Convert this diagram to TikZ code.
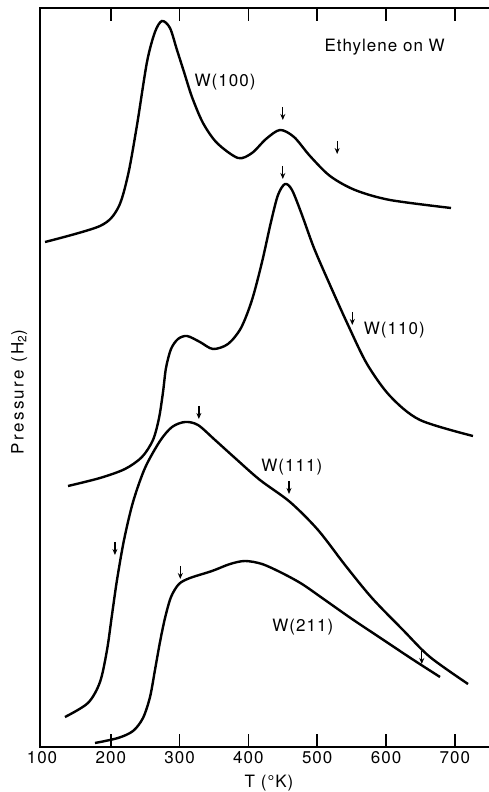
\documentclass[tikz,border=0pt]{standalone}
\usepackage{fontspec}
\setmainfont{TeX Gyre Heros}[LetterSpace=6]
\usetikzlibrary{arrows.meta}

\begin{document}
\begin{tikzpicture}[x=0.688pt,y=1pt,
	curve/.style={smooth,tension=0.5,line width=2.4pt},
	peakarrow/.style={-{Stealth[length=6pt,width=5pt]},line width=1.3pt},
	lbl/.style={font=\fontsize{17}{20}\selectfont,inner sep=0pt}]
		\useasboundingbox (38.95,0) rectangle (749.7,792);
		\draw[line width=1.8pt] (749.7,784) -- (97,784) -- (97,45) -- (749.7,45);
		\foreach \x in {200,300,...,700} {
			\draw[line width=1.5pt] (\x,45) -- (\x,58);
			\draw[line width=1.5pt] (\x,784) -- (\x,771);
		}
		\foreach \x in {100,200,...,700}
			\node[lbl] (t\x) at (\x,34) {\x};
		\node[lbl] (xlab) at (430,9) {T (°K)};
		\node[lbl,rotate=90,font=\fontsize{17}{20}\selectfont\addfontfeature{LetterSpace=14}] (ylab) at (67,400) {Pressure (H\textsubscript{2})};
		\draw[curve] plot coordinates {(104.4,550) (184.3,566) (210.5,584) (225,617) (238.1,667) (252.6,730) (264.2,760) (274.4,771) (286,764) (296.2,742) (306.4,720) (318,695) (334,669) (354.4,649) (384.9,634) (405.2,639) (425.6,653) (445.9,662) (466.3,655) (489.5,636) (518.6,616) (554.9,602) (605.8,592) (694.5,584)};
		\draw[curve] plot coordinates {(137.8,306) (184.3,314) (220.6,323) (245.3,335) (261.3,352) (270.1,374) (275.9,400) (280.2,424) (287.5,443) (297.7,453) (310.8,456) (329.6,450) (348.5,443) (370.3,448) (389.2,464) (405.2,492) (419.8,530) (432.8,570) (443,597) (453.2,608) (463.4,602) (477.9,577) (495.3,544) (518.6,507) (544.8,467) (572.4,428) (605.8,396) (649.4,372) (726.4,356)};
		\draw[curve] plot coordinates {(133.4,75) (166.8,89) (184.3,110) (194.5,142) (201.7,177) (209,212) (219.2,252) (232.3,290) (249.7,324) (271.5,351) (289,365) (307.8,370) (326.7,367) (351.5,352) (380.5,334) (416.8,312) (460.5,290) (501.2,262) (540.4,227) (579.6,194) (624.7,162) (663.9,135) (719.2,108)};
		\draw[curve] plot coordinates {(177,49) (210.5,54) (232.3,61) (246.8,74) (257,95) (264.2,122) (271.5,150) (278.8,174) (287.5,195) (299.1,208) (315.1,214) (347.1,221) (373.3,228) (395.1,231) (419.8,228) (448.8,219) (477.9,208) (511.3,192) (550.6,173) (594.2,153) (637.8,133) (678.5,115)};
		\foreach \t/\h in {450/685, 529/651, 450/626, 551/480, 328/386, 459/311, 206/250, 301/226, 652/141}
			\draw[peakarrow] (\t,\h) -- (\t,\h-13);
		\node[lbl] (w100) at (366,710) {W(100)};
		\node[lbl] (title) at (598,745) {Ethylene on W};
		\node[lbl] (w110) at (612,462) {W(110)};
		\node[lbl] (w111) at (463,325) {W(111)};
		\node[lbl] (w211) at (479,165) {W(211)};
	\end{tikzpicture}
\end{document}
